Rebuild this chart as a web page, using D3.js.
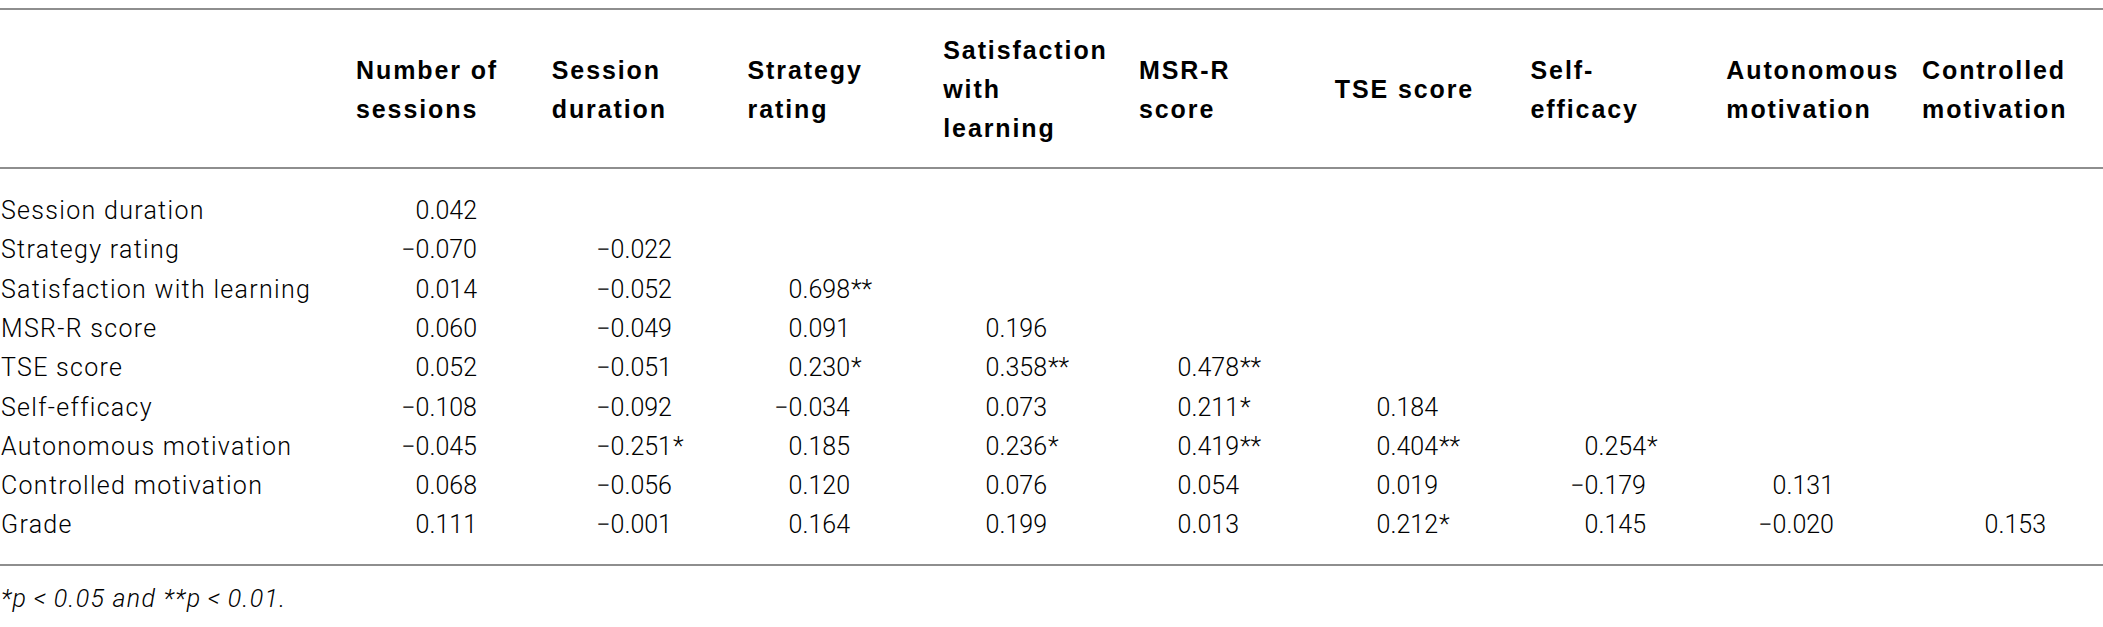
<!DOCTYPE html>
<html>
<head>
<meta charset="utf-8">
<script src="https://cdn.jsdelivr.net/npm/d3@7"></script>
<style>
  body { margin: 0; background: #fff; }
  svg { display: block; }
</style>
</head>
<body>
<svg id="table"></svg>
<script>

// column headers (as broken in the table)
const columns = ["Number of sessions", "Session duration", "Strategy rating", "Satisfaction with learning",
                 "MSR-R score", "TSE score", "Self-efficacy", "Autonomous motivation", "Controlled motivation"]
const headerLines = [["Number of", "sessions"], ["Session", "duration"], ["Strategy", "rating"],
                     ["Satisfaction", "with", "learning"], ["MSR-R", "score"], ["TSE score"],
                     ["Self-", "efficacy"], ["Autonomous", "motivation"], ["Controlled", "motivation"]]

const rows = ["Session duration", "Strategy rating", "Satisfaction with learning", "MSR-R score",
              "TSE score", "Self-efficacy", "Autonomous motivation", "Controlled motivation", "Grade"]

// lower triangle of correlations, one array per row
const values = [
  [0.042],
  [-0.070, -0.022],
  [0.014, -0.052, 0.698],
  [0.060, -0.049, 0.091, 0.196],
  [0.052, -0.051, 0.230, 0.358, 0.478],
  [-0.108, -0.092, -0.034, 0.073, 0.211, 0.184],
  [-0.045, -0.251, 0.185, 0.236, 0.419, 0.404, 0.254],
  [0.068, -0.056, 0.120, 0.076, 0.054, 0.019, -0.179, 0.131],
  [0.111, -0.001, 0.164, 0.199, 0.013, 0.212, 0.145, -0.020, 0.153]
]

// significance stars (1 = p<0.05, 2 = p<0.01)
const stars = [
  [0],
  [0, 0],
  [0, 0, 2],
  [0, 0, 0, 0],
  [0, 0, 1, 2, 2],
  [0, 0, 0, 0, 1, 0],
  [0, 1, 0, 1, 2, 2, 1],
  [0, 0, 0, 0, 0, 0, 0, 0],
  [0, 0, 0, 0, 0, 1, 0, 0, 0]
]

const footnote = "*p\u2009<\u20090.05 and **p\u2009<\u20090.01."

const width = 2103, height = 627

const svg = d3.select("#table")
              .attr("width", width)
              .attr("height", height)

// layout
const headerLeft = d3.scalePoint().domain(columns).range([356, 1922])
const valueRight = d3.scaleOrdinal().domain(columns)
                     .range([477, 672, 850, 1047, 1239, 1438, 1646, 1834, 2046])
const rowY = d3.scalePoint().domain(rows).range([219, 219 + 8 * 39.3])

const fmt = v => (v < 0 ? "\u2212" : "") + d3.format(".3f")(Math.abs(v))

// rules
svg.selectAll(".rule")
   .data([9, 168, 565])
   .enter()
   .append("line")
   .attr("class", "rule")
   .attr("x1", 0)
   .attr("x2", width)
   .attr("y1", d => d)
   .attr("y2", d => d)
   .attr("stroke", "#8e8e8e")
   .attr("stroke-width", 2)

// header
const head = svg.append("g")
                .attr("font-family", "'Liberation Sans', Arial, sans-serif")
                .attr("font-weight", "bold")
                .attr("font-size", 25)
                .attr("letter-spacing", "1.9px")
                .attr("fill", "#000")

columns.forEach((c, i) => {
  let lines = headerLines[i]
  head.selectAll(null)
      .data(lines)
      .enter()
      .append("text")
      .attr("x", headerLeft(c))
      .attr("y", (d, j) => 98 - (lines.length - 1) * 39 / 2 + j * 39)
      .text(d => d)
})

// row labels
svg.append("g")
   .attr("font-family", "Roboto, 'Liberation Sans', sans-serif")
   .attr("font-weight", 300)
   .attr("font-size", 25)
   .attr("letter-spacing", "1.3px")
   .attr("fill", "#000")
   .selectAll("text")
   .data(rows)
   .enter()
   .append("text")
   .attr("x", 1)
   .attr("y", d => rowY(d))
   .text(d => d)

// cells
const cells = []
values.forEach((r, i) => r.forEach((v, j) => cells.push({ row: rows[i], col: columns[j], v: v, s: stars[i][j] })))

const cellG = svg.append("g")
                 .attr("font-family", "Roboto, 'Liberation Sans', sans-serif")
                 .attr("font-weight", 300)
                 .attr("font-size", 25)
                 .attr("fill", "#000")

cellG.selectAll(".num")
     .data(cells)
     .enter()
     .append("text")
     .attr("class", "num")
     .attr("x", d => valueRight(d.col))
     .attr("y", d => rowY(d.row))
     .attr("text-anchor", "end")
     .text(d => fmt(d.v))

cellG.selectAll(".star")
     .data(cells.filter(d => d.s > 0))
     .enter()
     .append("text")
     .attr("class", "star")
     .attr("x", d => valueRight(d.col) + 1)
     .attr("y", d => rowY(d.row))
     .text(d => "*".repeat(d.s))

// footnote
svg.append("text")
   .attr("x", 1)
   .attr("y", 607)
   .attr("font-family", "Roboto, 'Liberation Sans', sans-serif")
   .attr("font-weight", 300)
   .attr("font-style", "italic")
   .attr("font-size", 25)
   .attr("letter-spacing", "1.3px")
   .attr("fill", "#000")
   .text(footnote)

</script>
</body>
</html>
